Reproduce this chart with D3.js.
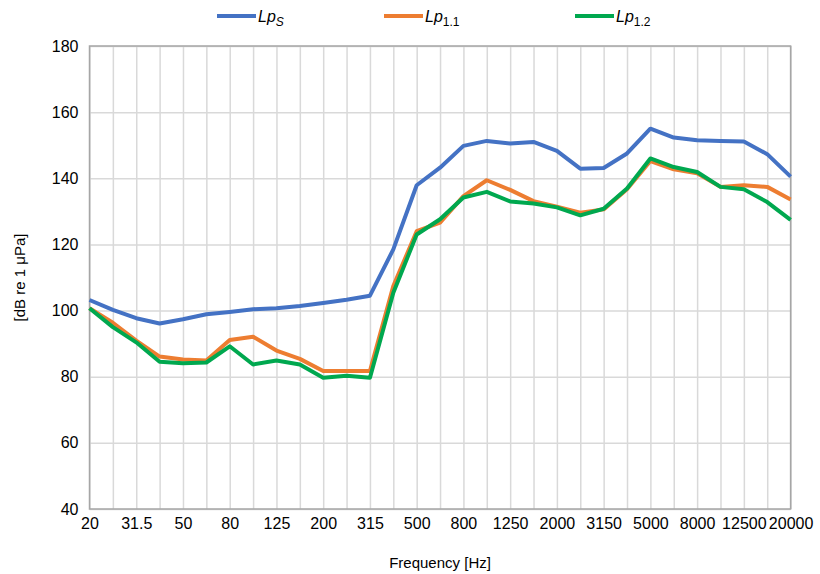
<!DOCTYPE html>
<html>
<head>
<meta charset="utf-8">
<script src="https://cdn.jsdelivr.net/npm/d3@7"></script>
<style>
  body { margin: 0; background: #fff; }
  svg { display: block; font-family: "Liberation Sans", Arial, sans-serif; }
</style>
</head>
<body>
<script>
const w = 820;
const h = 574;
const margin = { top: 46, right: 29.4, bottom: 65, left: 89.5 };

// third-octave bands
const bands = ["20", "25", "31.5", "40", "50", "63", "80", "100", "125", "160", "200", "250", "315", "400",
  "500", "630", "800", "1000", "1250", "1600", "2000", "2500", "3150", "4000", "5000", "6300", "8000",
  "10000", "12500", "16000", "20000"];

// only every other band gets a label
const tickLabels = ["20", "31.5", "50", "80", "125", "200", "315", "500", "800", "1250", "2000", "3150",
  "5000", "8000", "12500", "20000"];

const yTicks = [40, 60, 80, 100, 120, 140, 160, 180];

const lpS = [103.2, 100.2, 97.7, 96.1, 97.4, 98.9, 99.6, 100.4, 100.7, 101.4, 102.3, 103.3, 104.5, 118.5,
  137.9, 143.2, 149.8, 151.3, 150.5, 151.0, 148.3, 142.9, 143.1, 147.5, 155.0, 152.3, 151.5, 151.3, 151.1,
  147.3, 140.5];

const lp11 = [100.7, 96.3, 90.9, 86.1, 85.2, 84.9, 91.1, 92.1, 87.9, 85.4, 81.7, 81.7, 81.7, 107.4,
  124.0, 126.6, 134.6, 139.4, 136.5, 133.1, 131.4, 129.6, 130.6, 136.7, 145.2, 142.7, 141.5, 137.4, 137.9,
  137.4, 133.6];

const lp12 = [100.7, 95.0, 90.4, 84.5, 84.1, 84.3, 89.2, 83.7, 84.9, 83.7, 79.7, 80.3, 79.7, 105.4,
  123.0, 127.6, 134.2, 135.9, 133.0, 132.4, 131.2, 128.8, 130.8, 136.9, 146.0, 143.4, 141.9, 137.4, 136.7,
  132.8, 127.4];

const series = [
  { name: "Lp", sub: "S", values: lpS, color: "#4472C4" },
  { name: "Lp", sub: "1.1", values: lp11, color: "#ED7D31" },
  { name: "Lp", sub: "1.2", values: lp12, color: "#00A84F" }
];

const svg = d3.select("body").append("svg").attr("width", w).attr("height", h);

const xScale = d3.scalePoint()
  .domain(bands)
  .range([margin.left, w - margin.right]);

const yScale = d3.scaleLinear()
  .domain([40, 180])
  .range([h - margin.bottom, margin.top]);

// gridlines
svg.append("g")
  .attr("transform", "translate(0," + (h - margin.bottom) + ")")
  .call(d3.axisBottom(xScale).tickSize(-(h - margin.top - margin.bottom)).tickFormat(""))
  .call(g => g.select(".domain").remove())
  .selectAll("line").attr("stroke", "#d9d9d9").attr("stroke-width", 1.5);

svg.append("g")
  .attr("transform", "translate(" + margin.left + ",0)")
  .call(d3.axisLeft(yScale).tickValues(yTicks).tickSize(-(w - margin.left - margin.right)).tickFormat(""))
  .call(g => g.select(".domain").remove())
  .selectAll("line").attr("stroke", "#d9d9d9").attr("stroke-width", 1.5);

// plot border
svg.append("rect")
  .attr("x", margin.left)
  .attr("y", margin.top)
  .attr("width", w - margin.left - margin.right)
  .attr("height", h - margin.top - margin.bottom)
  .attr("fill", "none")
  .attr("stroke", "#a6a6a6")
  .attr("stroke-width", 1.5);

// axis labels
const xAxis = d3.axisBottom(xScale).tickValues(tickLabels).tickSize(0).tickPadding(9);
const yAxis = d3.axisLeft(yScale).tickValues(yTicks).tickSize(0).tickPadding(11);

svg.append("g")
  .attr("transform", "translate(0," + (h - margin.bottom) + ")")
  .call(xAxis)
  .call(g => g.select(".domain").remove())
  .selectAll("text").attr("font-size", 16).attr("fill", "#000").attr("font-family", "Liberation Sans, Arial, sans-serif");

svg.append("g")
  .attr("transform", "translate(" + margin.left + ",0)")
  .call(yAxis)
  .call(g => g.select(".domain").remove())
  .selectAll("text").attr("font-size", 16).attr("fill", "#000").attr("font-family", "Liberation Sans, Arial, sans-serif");

// lines
const line = d3.line()
  .x((d, i) => xScale(bands[i]))
  .y(d => yScale(d));

series.forEach(s => {
  svg.append("path")
    .datum(s.values)
    .attr("fill", "none")
    .attr("stroke", s.color)
    .attr("stroke-width", 4)
    .attr("stroke-linejoin", "round")
    .attr("d", line);
});

// axis titles
svg.append("text")
  .attr("x", (margin.left + w - margin.right) / 2)
  .attr("y", 568)
  .attr("text-anchor", "middle")
  .style("font-size", "15px")
  .text("Frequency [Hz]");

svg.append("text")
  .attr("transform", "translate(25," + ((margin.top + h - margin.bottom) / 2) + ") rotate(-90)")
  .attr("text-anchor", "middle")
  .style("font-size", "15px")
  .text("[dB re 1 μPa]");

// legend
const legendX = [217, 384, 575];
series.forEach((s, i) => {
  const g = svg.append("g").attr("transform", "translate(" + legendX[i] + ",16)");
  g.append("line")
    .attr("x1", 0).attr("x2", 39)
    .attr("y1", 0).attr("y2", 0)
    .attr("stroke", s.color)
    .attr("stroke-width", 4);
  const t = g.append("text")
    .attr("x", 41)
    .attr("y", 6)
    .style("font-size", "16px")
    .style("font-style", "italic");
  t.append("tspan").text(s.name);
  t.append("tspan")
    .attr("dy", 4)
    .style("font-size", "12px")
    .style("font-style", s.sub === "S" ? "italic" : "normal")
    .text(s.sub);
});
</script>
</body>
</html>
